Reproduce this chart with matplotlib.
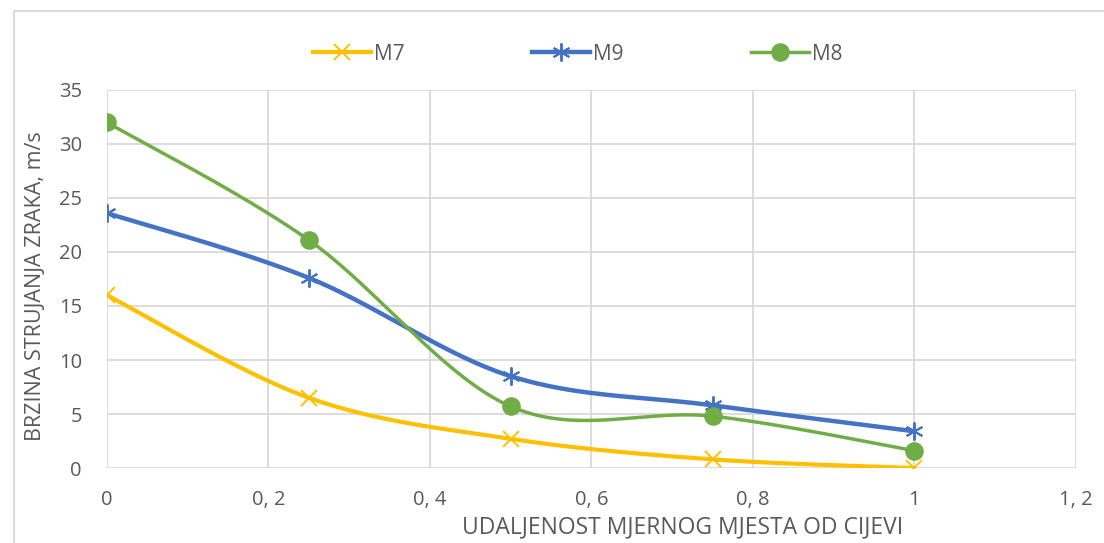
import numpy as np
import matplotlib
matplotlib.use('Agg')
import matplotlib.pyplot as plt
from matplotlib.patches import Rectangle
from matplotlib.ticker import FuncFormatter

x = [0, 0.25, 0.5, 0.75, 1]
m7 = [16.0, 6.5, 2.7, 0.8, 0.0]
m9 = [23.6, 17.6, 8.5, 5.8, 3.4]
m8 = [32.0, 21.1, 5.7, 4.8, 1.6]

plt.rcParams['font.family'] = ['Open Sans', 'DejaVu Sans']
gray = '#595959'


def smooth(xs, ys, n=40):
    # Excel-like smoothing: cubic bezier through points
    p = np.column_stack([xs, ys]).astype(float)
    p = np.vstack([p[0], p, p[-1]])
    out = []
    for i in range(1, len(p) - 2):
        p0, p1, p2, p3 = p[i - 1], p[i], p[i + 1], p[i + 2]
        c1 = p1 + (p2 - p0) / 6
        c2 = p2 - (p3 - p1) / 6
        t = np.linspace(0, 1, n)[:, None]
        seg = (1 - t) ** 3 * p1 + 3 * (1 - t) ** 2 * t * c1 + 3 * (1 - t) * t ** 2 * c2 + t ** 3 * p2
        out.append(seg)
    s = np.vstack(out)
    return s[:, 0], s[:, 1]


fig = plt.figure(figsize=(11.04, 5.43), dpi=100)
ax = fig.add_axes([0.0969, 0.1381, 0.8777, 0.6962])

asterisk = (6, 2, 0)
series = [('M7', m7, '#FFC000', 'x', 12, 3),
          ('M9', m9, '#4472C4', asterisk, 13, 3.2),
          ('M8', m8, '#70AD47', 'o', 12, 2.5)]
for name, ys, col, mk, ms, lw in series:
    sx, sy = smooth(x, ys)
    ax.plot(sx, sy, color=col, lw=lw, solid_capstyle='round')
    ax.plot(x, ys, ls='none', marker=mk, ms=ms, color=col, mew=1.4)
    ax.plot([], [], color=col, lw=lw, marker=mk, ms=ms, mew=1.4, label=name)

ax.set_xlim(0, 1.2)
ax.set_ylim(0, 35)
ax.set_xticks(np.arange(0, 1.21, 0.2))
ax.set_yticks(range(0, 36, 5))
ax.xaxis.set_major_formatter(FuncFormatter(lambda v, p: ('%g' % round(v, 1)).replace('.', ', ')))
ax.grid(True, color='#d9d9d9', lw=1.3)
ax.set_axisbelow(True)
for s in ax.spines.values():
    s.set_visible(False)
ax.tick_params(length=0, labelsize=14.5, colors=gray)
ax.tick_params(axis='x', pad=16)
ax.tick_params(axis='y', pad=18)
ax.set_xlabel('UDALJENOST MJERNOG MJESTA OD CIJEVI', fontsize=16.5, color=gray)
ax.xaxis.set_label_coords(0.594, -0.125)
ax.set_ylabel('BRZINA STRUJANJA ZRAKA, m/s', fontsize=15.5, color=gray)
ax.yaxis.set_label_coords(-0.063, 0.48)

ax.legend(loc='center', bbox_to_anchor=(0.486, 1.095), ncol=3, frameon=False,
          fontsize=15, labelcolor=gray, handlelength=2.8, columnspacing=6.1,
          handletextpad=0.15)

fig.patches.append(Rectangle((14 / 1104, -0.1), 1.2, (543 - 11) / 543 + 0.1,
                             transform=fig.transFigure, fill=False,
                             edgecolor='#d9d9d9', lw=1.3))

fig.savefig('out.png', dpi=100)
